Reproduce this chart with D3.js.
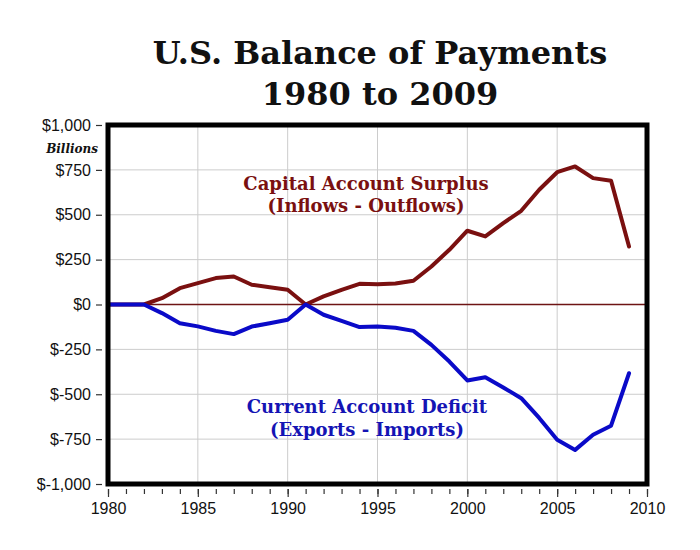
<!DOCTYPE html>
<html>
<head>
<meta charset="utf-8">
<script src="https://cdn.jsdelivr.net/npm/d3@7"></script>
<style>
  html, body { margin: 0; padding: 0; background: #ffffff; }
  svg { display: block; }
</style>
</head>
<body>
<svg id="chart" width="700" height="550"></svg>
<script>
const years = d3.range(1980, 2010);
const capitalSurplus = [0, 0, 0, 35, 91, 119, 147, 156, 110, 96, 82, 0, 45, 82, 115, 113, 117, 132, 212, 305, 411, 379, 453, 522, 639, 737, 769, 704, 689, 323];
const currentDeficit = [0, 0, 0, -48, -104, -122, -147, -165, -123, -104, -85, 0, -57, -91, -126, -123, -130, -147, -225, -318, -423, -405, -462, -522, -632, -754, -810, -726, -675, -383];
const yTicks = [-1000, -750, -500, -250, 0, 250, 500, 750, 1000];
const xMajorTicks = [1980, 1985, 1990, 1995, 2000, 2005, 2010];
const xMinorTicks = d3.range(1980, 2011);
const titleLines = ["U.S. Balance of Payments", "1980 to 2009"];
const capitalLabel = ["Capital Account Surplus", "(Inflows - Outflows)"];
const currentLabel = ["Current Account Deficit", "(Exports - Imports)"];

const svg = d3.select("#chart");
const L = 108, R = 647, T = 125, B = 484;
const x = d3.scaleLinear().domain([1980, 2010]).range([L, R]);
const y = d3.scaleLinear().domain([-1000, 1000]).range([B, T]);

svg.append("rect").attr("width", 700).attr("height", 550).attr("fill", "#fff");

// Title
svg.append("g").selectAll("text").data(titleLines).join("text")
  .attr("x", 380).attr("y", (d, i) => 64 + i * 41)
  .attr("text-anchor", "middle")
  .attr("font-family", "'DejaVu Serif', Georgia, serif")
  .attr("font-weight", "bold")
  .attr("font-size", 32)
  .attr("fill", "#111")
  .text(d => d);

// Grid
const grid = svg.append("g").attr("stroke", "#cccccc").attr("stroke-width", 1);
grid.selectAll("line.v").data(xMajorTicks.filter(d => d > 1980 && d < 2010)).join("line")
  .attr("x1", d => x(d)).attr("x2", d => x(d)).attr("y1", T).attr("y2", B);
grid.selectAll("line.h").data(yTicks.filter(d => d !== 0 && Math.abs(d) < 1000)).join("line")
  .attr("x1", L).attr("x2", R).attr("y1", d => y(d)).attr("y2", d => y(d));

// Zero line
svg.append("line").attr("x1", L).attr("x2", R).attr("y1", y(0)).attr("y2", y(0))
  .attr("stroke", "#6e1414").attr("stroke-width", 1.5);

// Lines
const line = d3.line().x((d, i) => x(years[i])).y(d => y(d));
svg.append("path").datum(capitalSurplus).attr("d", line)
  .attr("fill", "none").attr("stroke", "#7a1010").attr("stroke-width", 4)
  .attr("stroke-linejoin", "round").attr("stroke-linecap", "round");
svg.append("path").datum(currentDeficit).attr("d", line)
  .attr("fill", "none").attr("stroke", "#0a0ac8").attr("stroke-width", 4)
  .attr("stroke-linejoin", "round").attr("stroke-linecap", "round");

// Frame
svg.append("rect").attr("x", L).attr("y", T).attr("width", R - L).attr("height", B - T)
  .attr("fill", "none").attr("stroke", "#000").attr("stroke-width", 5);

// Y axis
const fmt = d => "$" + (d < 0 ? "-" : "") + d3.format(",")(Math.abs(d));
const yAxis = svg.append("g").attr("transform", `translate(102,0)`)
  .call(d3.axisLeft(y).tickValues(yTicks).tickFormat(fmt).tickSize(6).tickPadding(5));
yAxis.select(".domain").remove();
yAxis.selectAll("line").attr("stroke", "#333").attr("stroke-width", 1.2);
yAxis.selectAll("text").attr("font-family", "'Liberation Sans', Arial, sans-serif")
  .attr("font-size", 16).attr("fill", "#111");

// X axis minor
const xMinor = svg.append("g").attr("transform", `translate(0,489)`)
  .call(d3.axisBottom(x).tickValues(xMinorTicks).tickFormat("").tickSize(5));
xMinor.select(".domain").remove();
xMinor.selectAll("line").attr("stroke", "#333").attr("stroke-width", 1.2);
// X axis major
const xAxis = svg.append("g").attr("transform", `translate(0,489)`)
  .call(d3.axisBottom(x).tickValues(xMajorTicks).tickFormat(d3.format("d")).tickSize(8).tickPadding(6));
xAxis.select(".domain").remove();
xAxis.selectAll("line").attr("stroke", "#333").attr("stroke-width", 1.2);
xAxis.selectAll("text").attr("font-family", "'Liberation Sans', Arial, sans-serif")
  .attr("font-size", 16).attr("fill", "#111");

// Billions
svg.append("text").attr("x", 98).attr("y", 153).attr("text-anchor", "end")
  .attr("font-family", "'DejaVu Serif', Georgia, serif").attr("font-weight", "bold")
  .attr("font-style", "italic").attr("font-size", 12).attr("fill", "#111").text("Billions");

// Annotations
svg.append("g").selectAll("text").data(capitalLabel).join("text")
  .attr("x", 366).attr("y", (d, i) => 190 + i * 22)
  .attr("text-anchor", "middle")
  .attr("font-family", "'DejaVu Serif', Georgia, serif").attr("font-weight", "bold")
  .attr("font-size", 18).attr("fill", "#7a1010").text(d => d);
svg.append("g").selectAll("text").data(currentLabel).join("text")
  .attr("x", 367).attr("y", (d, i) => 413 + i * 23)
  .attr("text-anchor", "middle")
  .attr("font-family", "'DejaVu Serif', Georgia, serif").attr("font-weight", "bold")
  .attr("font-size", 18).attr("fill", "#1414b4").text(d => d);
</script>
</body>
</html>
